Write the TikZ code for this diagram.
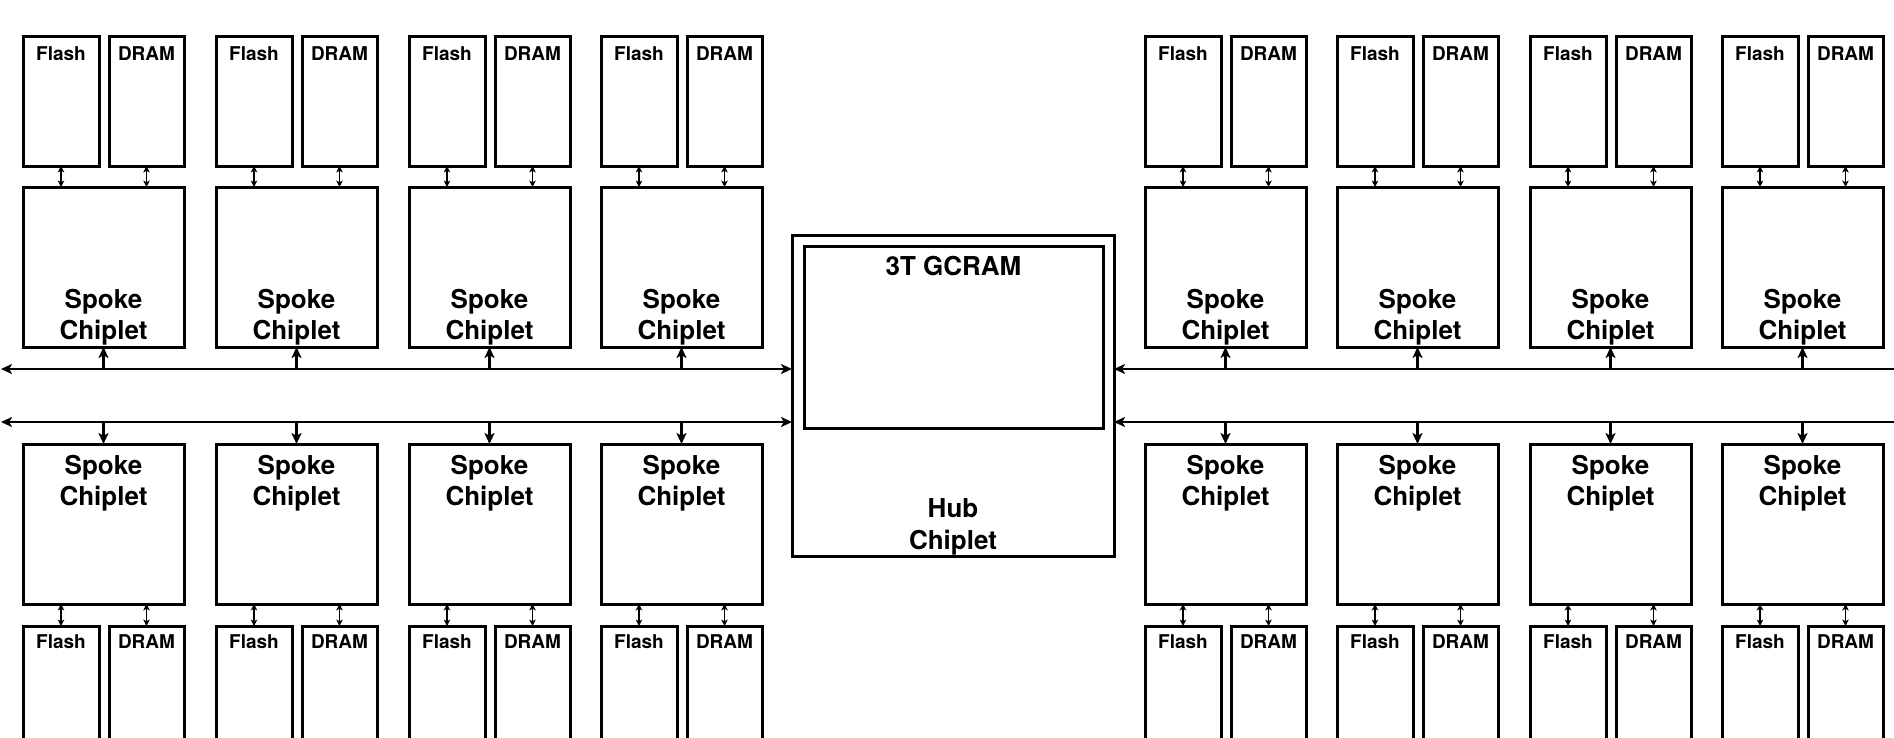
\documentclass[tikz,border=0pt]{standalone}
\usepackage{fontspec}
\setmainfont{TeX Gyre Heros}
\usetikzlibrary{arrows.meta,calc}
\begin{document}
\begin{tikzpicture}[x=0.5pt,y=-0.5pt,
  box/.style={draw, line width=1.5pt, rectangle, inner sep=0pt, outer sep=0pt, anchor=north west},
  flashbox/.style={box, minimum width=38pt, minimum height=64.5pt},
  drambox/.style={box, minimum width=37.5pt, minimum height=64.5pt},
  spokebox/.style={box, minimum width=80.5pt, minimum height=80pt},
  memlabel/.style={inner sep=0pt, font=\fontsize{9.5}{11}\selectfont\bfseries},
  biglabel/.style={inner sep=0pt, align=center, font=\fontsize{13}{15.8}\selectfont\bfseries},
  busline/.style={line width=1.2pt},
  bigtip/.tip={Stealth[length=5.5pt,width=5pt,inset=1.4pt]},
  smalltip/.tip={Stealth[length=3.2pt,width=3.2pt,inset=0.8pt]},
  busarrow/.style={line width=1.2pt, -bigtip},
  memarrow/.style={line width=0.8pt, smalltip-smalltip}
]
\useasboundingbox (0,0) rectangle (1894,738);
\clip (0,0) rectangle (1894,738);

% hub
\node[box, minimum width=161pt, minimum height=160.5pt] (hub) at (792,235) {};
\node[box, minimum width=149.5pt, minimum height=91pt] (gcram) at (804,246) {};
\node[biglabel, anchor=north] (gcraml) at ($(gcram.north)+(0,10)$) {3T GCRAM};
\node[biglabel, anchor=south] (hubl) at ($(hub.south)+(0,-0.5)$) {Hub\\Chiplet};

% buses
\coordinate (busA) at (1,369);
\coordinate (busB) at (1,422);
\coordinate (busAR) at (1900,369);
\coordinate (busBR) at (1900,422);
\draw[busline, bigtip-bigtip] (busA) -- (busA -| hub.west);
\draw[busline, bigtip-bigtip] (busB) -- (busB -| hub.west);
\draw[busline, -bigtip] (busAR) -- (busAR -| hub.east);
\draw[busline, -bigtip] (busBR) -- (busBR -| hub.east);

\foreach \x [count=\i] in {23,216,409,601,1145,1337,1530,1722} {
  % top row
  \node[flashbox] (tf\i) at (\x,37) {};
  \node[drambox] (td\i) at (\x+86,37) {};
  \node[spokebox] (ts\i) at (\x,187) {};
  \node[memlabel, anchor=north] (tfl\i) at ($(tf\i.north)+(0,9.5)$) {Flash};
  \node[memlabel, anchor=north] (tdl\i) at ($(td\i.north)+(0,9.5)$) {DRAM};
  \node[biglabel, anchor=south] (tsl\i) at ($(ts\i.south)+(0,-1)$) {Spoke\\Chiplet};
  % bottom row
  \node[spokebox] (bs\i) at (\x,444) {};
  \node[flashbox, minimum height=80pt] (bf\i) at (\x,626) {};
  \node[drambox, minimum height=80pt] (bd\i) at (\x+86,626) {};
  \node[biglabel, anchor=north] (bsl\i) at ($(bs\i.north)+(0,10.5)$) {Spoke\\Chiplet};
  \node[memlabel, anchor=north] (bfl\i) at ($(bf\i.north)+(0,8)$) {Flash};
  \node[memlabel, anchor=north] (bdl\i) at ($(bd\i.north)+(0,8)$) {DRAM};
  % connectors
  \draw[memarrow] (tf\i.south) -- (tf\i.south |- ts\i.north);
  \draw[memarrow] (td\i.south) -- (td\i.south |- ts\i.north);
  \draw[memarrow] (bf\i.north |- bs\i.south) -- (bf\i.north);
  \draw[memarrow] (bd\i.north |- bs\i.south) -- (bd\i.north);
  \draw[busarrow] (ts\i.south |- busA) -- (ts\i.south);
  \draw[busarrow] (bs\i.north |- busB) -- (bs\i.north);
}
\end{tikzpicture}
\end{document}
